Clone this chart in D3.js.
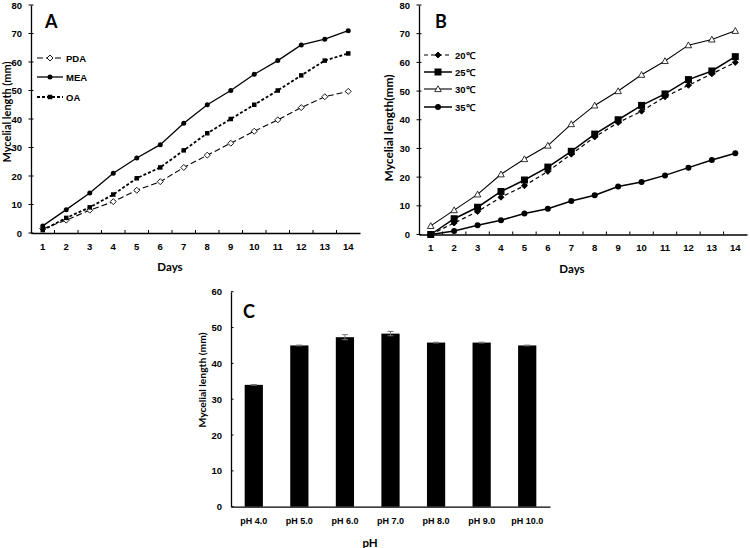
<!DOCTYPE html>
<html><head><meta charset="utf-8">
<script src="https://cdn.jsdelivr.net/npm/d3@7"></script>
<style>
body{margin:0;background:#fff;}
svg text{font-family:"Liberation Sans",Arial,sans-serif;font-weight:bold;fill:#000;}
svg text.title{font-family:Lato,"Liberation Sans",sans-serif;font-weight:bold;}
</style></head>
<body>
<svg id="c" width="750" height="548"></svg>
<script>
// ---- data ----
const days = [1,2,3,4,5,6,7,8,9,10,11,12,13,14];
const pda = [1.5,4.5,8,11,15,18,23,27.3,31.5,35.7,39.7,44,47.8,49.7];
const mea = [2.5,8.2,14,21,26.3,31,38.5,45,50,55.7,60.5,66,68,71];
const oa  = [1,5.3,9,13.5,19.2,23,29,35,40,45,50,55.3,60.5,63];
const t20 = [0,4,8,13,17,22,28,34,39,43,48,52,56,60];
const t25 = [0,5.5,9.5,15,19,23.5,29,35,40,45,49,54,57,62];
const t30 = [3,8.5,14,21,26.3,31,38.5,45,50,55.7,60.5,66,68,71];
const t35 = [0,1.2,3.2,5,7.3,9,11.7,13.7,16.7,18.3,20.6,23.3,26,28.3];
const phLabels = ["pH 4.0","pH 5.0","pH 6.0","pH 7.0","pH 8.0","pH 9.0","pH 10.0"];
const phValues = [34,45,47.3,48.3,45.8,45.8,45];
const phErrors = [0.1,0.1,0.7,0.6,0.1,0.1,0.1];
const lineTicks = [0,10,20,30,40,50,60,70,80];
const barTicks = [0,10,20,30,40,50,60];

const svg = d3.select("#c");

function marker(g, type, x, y, size){
  if(type==="circle"){
    g.append("circle").attr("cx",x).attr("cy",y).attr("r",size/2).attr("fill","#000");
  } else if(type==="square"){
    g.append("rect").attr("x",x-size/2).attr("y",y-size/2).attr("width",size).attr("height",size).attr("fill","#000");
  } else if(type==="diamond" || type==="odiamond"){
    const s=size/2;
    g.append("path").attr("d",`M${x},${y-s}L${x+s},${y}L${x},${y+s}L${x-s},${y}Z`)
      .attr("fill",type==="diamond"?"#000":"#fff").attr("stroke","#000").attr("stroke-width",0.9);
  } else if(type==="otriangle"){
    const s=size/2;
    g.append("path").attr("d",`M${x},${y-s}L${x+s},${y+s*0.8}L${x-s},${y+s*0.8}Z`)
      .attr("fill","#fff").attr("stroke","#000").attr("stroke-width",0.8);
  }
}

function lineChart(cfg){
  const g = svg.append("g");
  const x = d3.scaleBand().domain(days).range([cfg.x0,cfg.x1]).padding(0);
  const y = d3.scaleLinear().domain([0,80]).range([cfg.y0,cfg.y1]);
  const cx = d => x(d)+x.bandwidth()/2;
  // y axis
  const ya = d3.axisLeft(y).tickValues(lineTicks).tickSize(0).tickPadding(9);
  const yg = g.append("g").attr("transform",`translate(${cfg.x0},0)`).call(ya);
  yg.select(".domain").attr("stroke","#000").attr("stroke-width",1.3);
  yg.selectAll("text").attr("font-size",9.5);
  lineTicks.forEach(t=>g.append("line").attr("x1",cfg.x0-2.5).attr("x2",cfg.x0+2.5)
    .attr("y1",y(t)).attr("y2",y(t)).attr("stroke","#000").attr("stroke-width",1));
  // x axis
  const xa = d3.axisBottom(x).tickSize(0).tickPadding(10);
  const xg = g.append("g").attr("transform",`translate(0,${cfg.y0})`).call(xa);
  xg.select(".domain").attr("stroke","#000").attr("stroke-width",1.3);
  xg.selectAll("text").attr("font-size",9.5);
  days.slice(1).forEach(d=>g.append("line").attr("x1",x(d)).attr("x2",x(d))
    .attr("y1",cfg.y0).attr("y2",cfg.y0-3).attr("stroke","#000").attr("stroke-width",1));
  // titles
  g.append("text").attr("class","title").attr("x",cfg.daysX).attr("y",cfg.y0+38).attr("text-anchor","middle")
    .attr("font-size",11.5).text("Days");
  g.append("text").attr("class","title").attr("transform",`translate(${cfg.ylx},${cfg.ylc}) rotate(-90)`)
    .attr("text-anchor","middle").attr("dominant-baseline","central").attr("font-size",10.5)
    .attr("textLength",cfg.ylen).attr("lengthAdjust","spacingAndGlyphs").text(cfg.ylabel);
  g.append("text").attr("class","title").attr("x",cfg.labx).attr("y",cfg.laby).attr("font-size",18).text(cfg.letter);
  // series
  cfg.series.forEach(s=>{
    const line = d3.line().x((v,i)=>cx(days[i])).y(v=>y(v));
    g.append("path").datum(s.values).attr("d",line).attr("fill","none")
      .attr("stroke","#000").attr("stroke-width",s.width).attr("stroke-dasharray",s.dash||null);
    s.values.forEach((v,i)=>marker(g,s.marker,cx(days[i]),y(v),s.size));
  });
  // legend
  cfg.series.forEach((s,i)=>{
    const ly = cfg.legY[i];
    g.append("line").attr("x1",cfg.legX0).attr("x2",cfg.legX1).attr("y1",ly).attr("y2",ly)
      .attr("stroke","#000").attr("stroke-width",s.width).attr("stroke-dasharray",s.dash||null);
    marker(g,s.marker,(cfg.legX0+cfg.legX1)/2,ly,s.size);
    g.append("text").attr("x",cfg.legX1+3).attr("y",ly).attr("dominant-baseline","central")
      .attr("font-size",9.5).text(s.name);
  });
}

lineChart({x0:31,x1:360,y0:233,y1:5,ylx:7,ylc:112,ylen:101,ylabel:"Mycelial length (mm)",letter:"A",labx:45,laby:28,
  daysX:170,legX0:37,legX1:63,legY:[58,77,97],
  series:[
    {name:"PDA",values:pda,marker:"odiamond",size:6,width:1.1,dash:"6,3"},
    {name:"MEA",values:mea,marker:"circle",size:5,width:1.3},
    {name:"OA",values:oa,marker:"square",size:4.5,width:1.8,dash:"3,2"}
  ]});

lineChart({x0:419,x1:747,y0:234.5,y1:5,ylx:389,ylc:128,ylen:107,ylabel:"Mycelial length(mm)",letter:"B",labx:435,laby:28,
  daysX:572,legX0:424,legX1:452,legY:[55,72,89,107],
  series:[
    {name:"20℃",values:t20,marker:"diamond",size:6,width:1.2,dash:"4,3"},
    {name:"25℃",values:t25,marker:"square",size:7,width:1.5},
    {name:"30℃",values:t30,marker:"otriangle",size:6.5,width:1.1},
    {name:"35℃",values:t35,marker:"circle",size:6,width:1.5}
  ]});

// bar chart C
(function(){
  const x0=231,x1=550,y0=506.7,y1=291.7;
  const g = svg.append("g");
  const x = d3.scaleBand().domain(phLabels).range([x0,x1]).paddingInner(0.6).paddingOuter(0.3);
  const y = d3.scaleLinear().domain([0,60]).range([y0,y1]);
  g.selectAll("rect.bar").data(phValues).enter().append("rect")
    .attr("x",(d,i)=>x(phLabels[i])).attr("width",x.bandwidth())
    .attr("y",d=>y(d)).attr("height",d=>y0-y(d)).attr("fill","#000");
  phValues.forEach((v,i)=>{
    const cx = x(phLabels[i])+x.bandwidth()/2;
    g.append("line").attr("x1",cx).attr("x2",cx).attr("y1",y(v+phErrors[i])).attr("y2",y(v-phErrors[i]))
      .attr("stroke","#777").attr("stroke-width",1);
    [v+phErrors[i],v-phErrors[i]].forEach(e=>g.append("line").attr("x1",cx-3).attr("x2",cx+3)
      .attr("y1",y(e)).attr("y2",y(e)).attr("stroke","#777").attr("stroke-width",1));
  });
  const ya = d3.axisLeft(y).tickValues(barTicks).tickSize(0).tickPadding(9);
  const yg = g.append("g").attr("transform",`translate(${x0},0)`).call(ya);
  yg.select(".domain").attr("stroke","#000").attr("stroke-width",1.3);
  yg.selectAll("text").attr("font-size",9.5);
  barTicks.forEach(t=>g.append("line").attr("x1",x0).attr("x2",x0+2.5)
    .attr("y1",y(t)).attr("y2",y(t)).attr("stroke","#000").attr("stroke-width",1));
  const xa = d3.axisBottom(x).tickSize(0).tickPadding(11);
  const xg = g.append("g").attr("transform",`translate(0,${y0})`).call(xa);
  xg.select(".domain").attr("stroke","#000").attr("stroke-width",1.3);
  xg.selectAll("text").attr("font-size",9);
  g.append("text").attr("class","title").attr("x",370).attr("y",547).attr("text-anchor","middle").attr("font-size",11.5).text("pH");
  g.append("text").attr("class","title").attr("transform",`translate(202,380) rotate(-90)`)
    .attr("text-anchor","middle").attr("dominant-baseline","central").attr("font-size",10)
    .attr("textLength",95).attr("lengthAdjust","spacingAndGlyphs").text("Mycelial length (mm)");
  g.append("text").attr("class","title").attr("x",243).attr("y",318).attr("font-size",18).text("C");
})();
</script>
</body></html>
